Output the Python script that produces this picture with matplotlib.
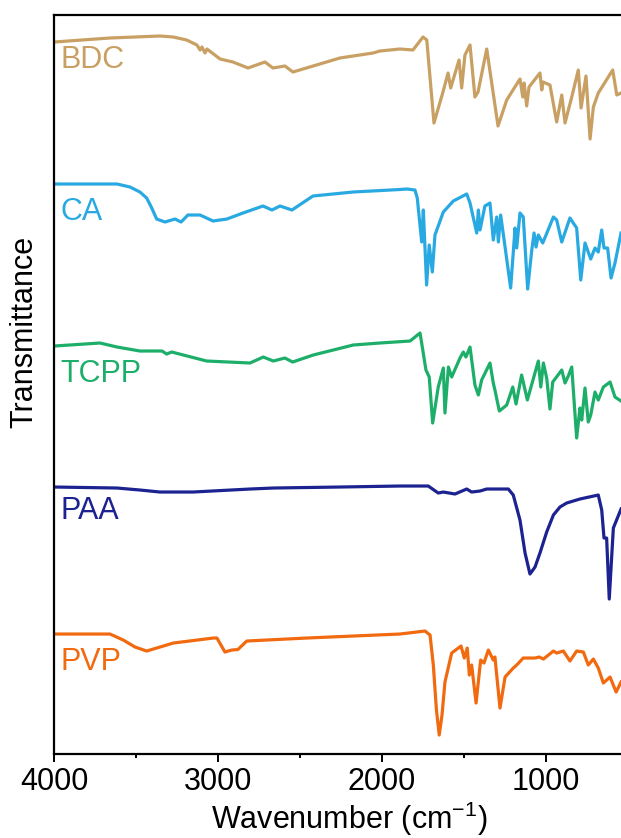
import matplotlib.pyplot as plt
from matplotlib.ticker import MultipleLocator

plt.rcParams['font.family'] = ['Liberation Sans', 'DejaVu Sans']
plt.rcParams['mathtext.fontset'] = 'custom'
plt.rcParams['mathtext.rm'] = 'Liberation Sans'

# FTIR spectra (wavenumber in cm-1, transmittance offset for stacking)
bdc_wn = [4000, 3660, 3355, 3274, 3192, 3129, 3110, 3098, 3080, 3068, 2988, 2909, 2817, 2714, 2665, 2592,
          2543, 2256, 2054, 2012, 1890, 1810, 1749, 1726, 1682, 1627, 1596, 1580, 1529, 1513, 1493,
          1462, 1432, 1413, 1360, 1291, 1238, 1157, 1140, 1132, 1116, 1102, 1035, 1024, 1016, 974,
          933, 902, 882, 841, 801, 784, 754, 729, 709, 679, 591, 566, 540]
bdc_t = [7.12, 7.16, 7.18, 7.17, 7.14, 7.09, 7.04, 7.07, 7.01, 7.05, 6.95, 6.92, 6.86, 6.92, 6.86, 6.88,
         6.82, 6.96, 7.01, 7.03, 7.05, 7.04, 7.17, 7.14, 6.31, 6.62, 6.81, 6.66, 6.94, 6.66, 6.99,
         7.09, 6.57, 6.62, 7.05, 6.28, 6.54, 6.75, 6.57, 6.71, 6.48, 6.67, 6.81, 6.64, 6.72, 6.69,
         6.32, 6.59, 6.31, 6.57, 6.84, 6.46, 6.78, 6.15, 6.47, 6.61, 6.84, 6.59, 6.61]

ca_wn = [4000, 3617, 3538, 3477, 3436, 3405, 3375, 3324, 3263, 3226, 3184, 3110, 3031, 2946, 2848, 2726, 2671,
         2622, 2549, 2421, 2176, 1890, 1847, 1798, 1784, 1757, 1747, 1727, 1711, 1692, 1676, 1625,
         1564, 1482, 1462, 1421, 1411, 1401, 1371, 1340, 1320, 1299, 1289, 1275, 1248, 1214, 1187,
         1177, 1157, 1137, 1110, 1085, 1071, 1059, 1045, 1018, 953, 933, 902, 852, 811, 786, 760,
         725, 699, 679, 658, 644, 622, 601, 577, 540]
ca_t = [5.70, 5.70, 5.67, 5.62, 5.56, 5.46, 5.35, 5.32, 5.35, 5.32, 5.39, 5.39, 5.33, 5.35, 5.41, 5.48, 5.44,
        5.48, 5.44, 5.58, 5.62, 5.645, 5.65, 5.64, 5.56, 5.12, 5.44, 4.69, 5.09, 4.82, 5.19, 5.42,
        5.53, 5.60, 5.51, 5.21, 5.44, 5.24, 5.48, 5.51, 5.14, 5.37, 5.12, 5.39, 5.07, 4.66, 5.26,
        5.06, 5.41, 5.37, 4.65, 5.04, 5.21, 5.07, 5.19, 5.11, 5.37, 5.34, 5.12, 5.36, 5.26, 4.74, 5.11,
        4.95, 5.06, 5.02, 5.24, 5.06, 5.06, 4.76, 4.91, 5.21]

tcpp_wn = [4000, 3721, 3617, 3477, 3373, 3342, 3314, 3283, 3070, 2805, 2724, 2663, 2592, 2545, 2419,
           2175, 2012, 1828, 1767, 1731, 1711, 1690, 1656, 1625, 1615, 1594, 1574, 1523, 1503, 1487,
           1462, 1432, 1411, 1391, 1340, 1320, 1310, 1283, 1238, 1201, 1181, 1147, 1112, 1045, 1030,
           1014, 994, 974, 957, 902, 882, 862, 841, 811, 791, 780, 760, 740, 725, 699, 679, 648,
           607, 577, 540]
tcpp_t = [4.08, 4.11, 4.07, 4.03, 4.03, 4.03, 4.00, 4.02, 3.93, 3.91, 3.97, 3.93, 3.96, 3.92, 3.99,
          4.09, 4.11, 4.13, 4.21, 3.84, 3.77, 3.31, 3.67, 3.86, 3.41, 3.87, 3.77, 3.96, 4.02, 3.97,
          4.07, 3.69, 3.59, 3.74, 3.91, 3.71, 3.64, 3.43, 3.49, 3.67, 3.50, 3.79, 3.54, 3.93, 3.67,
          3.91, 3.76, 3.45, 3.72, 3.84, 3.71, 3.78, 3.87, 3.16, 3.46, 3.34, 3.66, 3.32, 3.39, 3.62, 3.54, 3.67,
          3.72, 3.57, 3.53]

paa_wn = [4000, 3617, 3477, 3355, 3153, 2805, 2663, 2256, 1890, 1717, 1656, 1625, 1554, 1482, 1452,
          1401, 1360, 1228, 1198, 1157, 1126, 1096, 1065, 1035, 994, 953, 913, 872, 791, 679,
          658, 644, 628, 612, 587, 540]
paa_t = [2.67, 2.66, 2.64, 2.62, 2.62, 2.65, 2.66, 2.67, 2.68, 2.68, 2.61, 2.62, 2.60, 2.65, 2.62,
         2.63, 2.65, 2.65, 2.59, 2.34, 2.01, 1.80, 1.87, 2.01, 2.22, 2.39, 2.47, 2.51, 2.55, 2.59,
         2.44, 2.16, 2.16, 1.55, 2.26, 2.45]

pvp_wn = [4000, 3660, 3579, 3507, 3436, 3273, 3029, 3007, 2958, 2917, 2879, 2825, 2459, 1890, 1737,
          1706, 1686, 1667, 1650, 1633, 1615, 1574, 1517, 1497, 1479, 1466, 1452, 1425, 1397, 1377,
          1350, 1320, 1310, 1279, 1248, 1198, 1177, 1137, 1065, 1039, 1014, 953, 933, 892, 852,
          811, 770, 740, 709, 679, 648, 607, 570, 540]
pvp_t = [1.20, 1.20, 1.14, 1.07, 1.03, 1.11, 1.16, 1.16, 1.02, 1.04, 1.045, 1.13, 1.16, 1.20, 1.23,
         1.19, 0.89, 0.44, 0.19, 0.39, 0.72, 1.01, 1.08, 0.96, 1.06, 0.79, 0.89, 0.51, 0.94, 0.91,
         1.04, 0.94, 0.97, 0.46, 0.77, 0.86, 0.89, 0.96, 0.96, 0.97, 0.95, 1.03, 1.01, 1.03, 0.93,
         1.03, 1.02, 0.89, 0.95, 0.86, 0.71, 0.77, 0.62, 0.72]

names = ['BDC', 'CA', 'TCPP', 'PAA', 'PVP']
colors = ['#C9A063', '#29A9E1', '#1DAF6A', '#1C2290', '#F26A10']
label_y = [6.94, 5.42, 3.80, 2.43, 0.92]
spectra = [(bdc_wn, bdc_t), (ca_wn, ca_t), (tcpp_wn, tcpp_t), (paa_wn, paa_t), (pvp_wn, pvp_t)]

fig = plt.figure(figsize=(6.21, 8.38), dpi=100)
ax = fig.add_axes([0.0874, 0.1002, 0.9496, 0.8819])

for (wn, t), name, c, ly in zip(spectra, names, colors, label_y):
    ax.plot(wn, t, color=c, linewidth=2.3, solid_joinstyle='round')
    ax.text(3965, ly, name, color=c, fontsize=22, ha='left', va='center')

ax.set_xlim(4000, 400)
ax.set_ylim(0, 7.39)
ax.xaxis.set_major_locator(MultipleLocator(1000))
ax.xaxis.set_minor_locator(MultipleLocator(500))
ax.set_yticks([])
ax.tick_params(axis='x', which='major', length=6, width=1.4, labelsize=22, pad=3)
ax.tick_params(axis='x', which='minor', length=3, width=1.4)
for s in ax.spines.values():
    s.set_linewidth(1.6)

ax.set_xlabel('Wavenumber (cm$^{\\mathregular{-1}}$)', fontsize=22, labelpad=2)
ax.set_ylabel('Transmittance', fontsize=22)
ax.yaxis.set_label_coords(-0.025, 0.571)

fig.savefig('out.png', dpi=100)
